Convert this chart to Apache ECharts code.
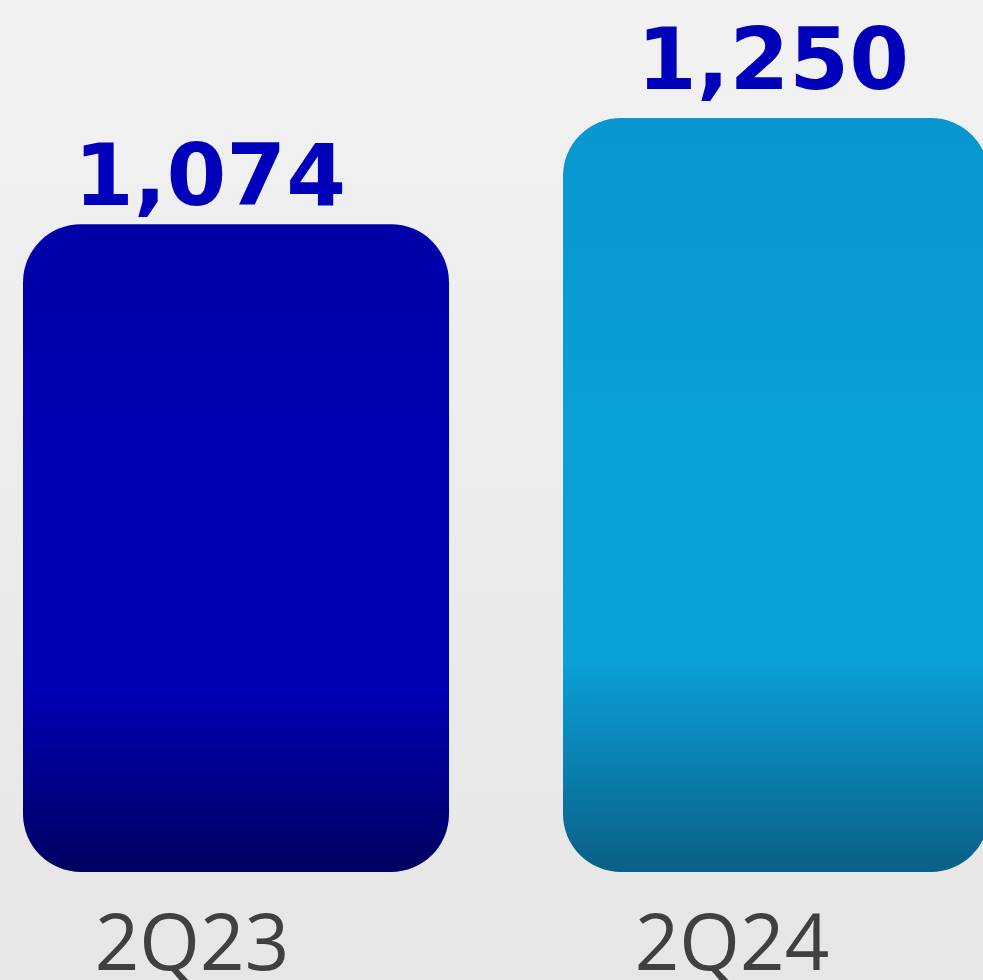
<!DOCTYPE html>
<html>
<head>
<meta charset="utf-8">
<script src="https://cdn.jsdelivr.net/npm/echarts@6/dist/echarts.min.js"></script>
<style>html,body{margin:0;padding:0;}#c{width:983px;height:980px;}</style>
</head>
<body>
<div id="c"></div>
<script>
var categories = ['2Q23', '2Q24'];
var values = [1074, 1250];
var valueLabels = ['1,074', '1,250'];

var barStyles = [
  { top: '#0000a8', mid: '#0000b4', bottom: '#000060' },
  { top: '#0896d0', mid: '#0aa0d8', bottom: '#0a5f86' }
];
var labelOffsets = [[-26, 2], [-3, -8]];

var chart = echarts.init(document.getElementById('c'), null, { renderer: 'canvas' });

var data = values.map(function (v, i) {
  var s = barStyles[i];
  return {
    value: v,
    itemStyle: {
      color: new echarts.graphic.LinearGradient(0, 0, 0, 1, [
        { offset: 0, color: s.top },
        { offset: 0.4, color: s.mid },
        { offset: 0.72, color: s.mid },
        { offset: 1, color: s.bottom }
      ])
    },
    label: { offset: labelOffsets[i] }
  };
});

chart.setOption({
  backgroundColor: new echarts.graphic.LinearGradient(0, 0, 0, 1, [
    { offset: 0, color: '#f2f2f2' },
    { offset: 1, color: '#e6e6e6' }
  ]),
  animation: false,
  grid: { left: -34, right: -63, top: 27.5, bottom: 108, containLabel: false, outerBoundsMode: 'none' },
  xAxis: {
    type: 'category',
    data: categories,
    axisLine: { show: false },
    axisTick: { show: false },
    axisLabel: {
      fontFamily: 'Open Sans',
      fontSize: 78,
      color: '#404040',
      margin: 37,
      padding: [0, 88, 0, 0]
    }
  },
  yAxis: {
    type: 'value',
    min: 0,
    max: 1400,
    show: false,
    splitLine: { show: false }
  },
  series: [{
    type: 'bar',
    data: data,
    barWidth: 426,
    itemStyle: { borderRadius: 58 },
    label: {
      show: true,
      position: 'top',
      distance: 0,
      fontFamily: 'DejaVu Sans',
      fontWeight: 'bold',
      fontSize: 86,
      color: '#0000bb',
      formatter: function (p) { return valueLabels[p.dataIndex]; }
    }
  }]
});
</script>
</body>
</html>
